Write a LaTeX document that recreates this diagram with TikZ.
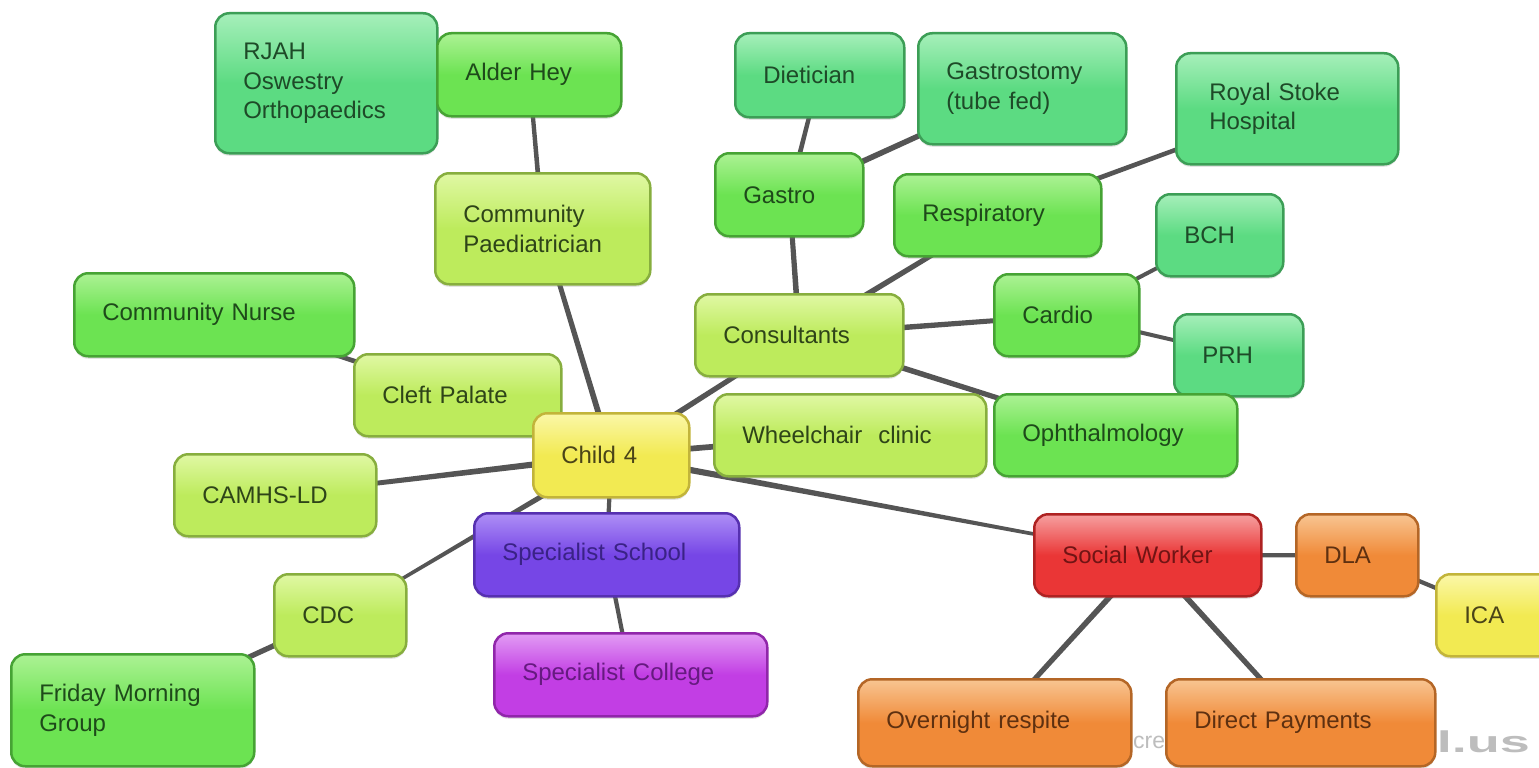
\documentclass[tikz,border=0pt]{standalone}
\usepackage{fontspec}
\setmainfont{Liberation Sans}
\usetikzlibrary{calc,shadows,backgrounds}
\definecolor{tealB}{HTML}{5CDB82}\definecolor{tealL}{HTML}{A6EFBA}\definecolor{tealD}{HTML}{3C9E56}\definecolor{tealT}{HTML}{1E4A28}
\definecolor{grnB}{HTML}{6CE352}\definecolor{grnL}{HTML}{ACF294}\definecolor{grnD}{HTML}{46A334}\definecolor{grnT}{HTML}{1E4A1A}
\definecolor{limeB}{HTML}{BDEB5C}\definecolor{limeL}{HTML}{E0F8A4}\definecolor{limeD}{HTML}{87AE3E}\definecolor{limeT}{HTML}{2E4418}
\definecolor{yelB}{HTML}{F2EA52}\definecolor{yelL}{HTML}{FBF7A8}\definecolor{yelD}{HTML}{C2B43A}\definecolor{yelT}{HTML}{4A4418}
\definecolor{purB}{HTML}{7646E6}\definecolor{purL}{HTML}{AE8FF6}\definecolor{purD}{HTML}{5630B0}\definecolor{purT}{HTML}{3A2286}
\definecolor{magB}{HTML}{C23EE4}\definecolor{magL}{HTML}{E29CF4}\definecolor{magD}{HTML}{9026AA}\definecolor{magT}{HTML}{661A80}
\definecolor{redB}{HTML}{EA3636}\definecolor{redL}{HTML}{F6A0A0}\definecolor{redD}{HTML}{AE2222}\definecolor{redT}{HTML}{701414}
\definecolor{orB}{HTML}{F08A38}\definecolor{orL}{HTML}{F8C592}\definecolor{orD}{HTML}{B46626}\definecolor{orT}{HTML}{5E3010}
\definecolor{linec}{HTML}{555555}
\definecolor{wmc}{HTML}{BDBDBD}
\tikzset{
  bub/.style={rounded corners=14pt, line width=2.5pt, inner xsep=28pt, inner ysep=3pt,
    align=left, font=\fontsize{24}{29.5}\selectfont,
    drop shadow={shadow xshift=0pt, shadow yshift=-2.5pt, opacity=0.22}},
  teal/.style={bub, draw=tealD, top color=tealL, bottom color=tealB, middle color=tealB, text=tealT},
  grn/.style={bub, draw=grnD, top color=grnL, bottom color=grnB, middle color=grnB, text=grnT},
  lime/.style={bub, draw=limeD, top color=limeL, bottom color=limeB, middle color=limeB, text=limeT},
  yel/.style={bub, draw=yelD, top color=yelL, bottom color=yelB, middle color=yelB, text=yelT},
  purp/.style={bub, draw=purD, top color=purL, bottom color=purB, middle color=purB, text=purT},
  mag/.style={bub, draw=magD, top color=magL, bottom color=magB, middle color=magB, text=magT},
  redbox/.style={bub, draw=redD, top color=redL, bottom color=redB, middle color=redB, text=redT},
  orng/.style={bub, draw=orD, top color=orL, bottom color=orB, middle color=orB, text=orT},
  wmark/.style={text=wmc, inner sep=0pt}
}
\newcommand\bubnode[7]{%
  \pgfmathsetmacro\bw{#5-#3}\pgfmathsetmacro\bh{#6-#4}\pgfmathsetmacro\tw{#5-#3-56}%
  \node[#2, anchor=north west, minimum width=\bw pt, minimum height=\bh pt, text width=\tw pt] (#1) at (#3,#4) {#7};}
\newcommand\conn[4]{%
  \fill[linec] let \p1=(#1.center), \p2=(#2.center), \n1={atan2(\y2-\y1,\x2-\x1)} in
    ($(\p1)+(\n1+90:#3)$) -- ($(\p2)+(\n1+90:#4)$) -- ($(\p2)+(\n1-90:#4)$) -- ($(\p1)+(\n1-90:#3)$) -- cycle;}
\begin{document}
\begin{tikzpicture}[x=1pt, y=-1pt]
\useasboundingbox (0,0) rectangle (1539,768);

\bubnode{rjah}{teal}{214}{12}{436}{152}{RJAH\\Oswestry\\Orthopaedics}
\bubnode{alder}{grn}{436}{32}{620}{115}{Alder Hey}
\bubnode{commp}{lime}{434}{172}{649}{283}{Community\\Paediatrician}
\bubnode{diet}{teal}{734}{32}{903}{116}{Dietician}
\bubnode{gtomy}{teal}{917}{32}{1125}{143}{Gastrostomy\\(tube fed)}
\bubnode{stoke}{teal}{1175}{52}{1397}{163}{\hspace*{5pt}Royal Stoke\\\hspace*{5pt}Hospital}
\bubnode{gastro}{grn}{714}{152}{862}{235}{Gastro}
\bubnode{resp}{grn}{893}{173}{1100}{255}{Respiratory}
\bubnode{bch}{teal}{1155}{193}{1282}{275}{BCH}
\bubnode{nurse}{grn}{73}{272}{353}{355}{Community Nurse}
\bubnode{cons}{lime}{694}{293}{902}{375}{Consultants}
\bubnode{cardio}{grn}{993}{273}{1138}{355}{Cardio}
\bubnode{prh}{teal}{1173}{313}{1302}{395}{PRH}
\bubnode{cleft}{lime}{353}{353}{560}{435}{Cleft Palate}
\bubnode{child}{yel}{532}{412}{688}{496}{Child 4}
\bubnode{wheel}{lime}{713}{393}{985}{475}{Wheelchair~ clinic}
\bubnode{oph}{grn}{993}{393}{1236}{475}{Ophthalmology}
\bubnode{camhs}{lime}{173}{453}{375}{535}{CAMHS-LD}
\bubnode{school}{purp}{473}{512}{738}{595}{Specialist School}
\bubnode{social}{redbox}{1033}{513}{1260}{595}{Social Worker}
\bubnode{dla}{orng}{1295}{513}{1417}{595}{DLA}
\bubnode{ica}{yel}{1435}{573}{1565}{655}{ICA}
\bubnode{cdc}{lime}{273}{573}{405}{655}{CDC}
\bubnode{college}{mag}{493}{632}{766}{715}{Specialist College}
\bubnode{friday}{grn}{10}{653}{253}{765}{Friday Morning\\Group}
\bubnode{night}{orng}{857}{678}{1130}{765}{Overnight respite}
\bubnode{direct}{orng}{1165}{678}{1434}{765}{Direct Payments}

\begin{pgfonlayer}{background}
\fill[white] (0,0) rectangle (1539,768);
\node[wmark, anchor=base west, font=\fontsize{23}{26}\selectfont] (wm1) at (1133,748) {created with};
\node[wmark, anchor=base east, font=\bfseries\fontsize{30}{32}\selectfont] (wm2) at (1530,752) {\scalebox{1.8}[1]{bubbl.us}};
\conn{commp}{alder}{2.5pt}{2pt}
\conn{child}{commp}{3pt}{2.3pt}
\conn{gastro}{diet}{2.5pt}{2pt}
\conn{gastro}{gtomy}{3pt}{2.5pt}
\conn{cons}{gastro}{3pt}{2.3pt}
\conn{resp}{stoke}{2.6pt}{2pt}
\conn{cons}{resp}{3pt}{2.3pt}
\conn{cardio}{bch}{2.2pt}{1.8pt}
\conn{cons}{cardio}{3pt}{2.3pt}
\conn{cardio}{prh}{2.2pt}{1.8pt}
\conn{cons}{oph}{3pt}{2.3pt}
\conn{child}{cons}{3pt}{2.3pt}
\conn{cleft}{nurse}{2.6pt}{2pt}
\conn{child}{wheel}{3pt}{2.6pt}
\conn{child}{social}{3.4pt}{1.4pt}
\conn{child}{camhs}{3.4pt}{2pt}
\conn{child}{school}{2.2pt}{2pt}
\conn{child}{cdc}{3pt}{1.4pt}
\conn{cdc}{friday}{2.8pt}{2.4pt}
\conn{school}{college}{2.2pt}{2pt}
\conn{social}{dla}{2.2pt}{2pt}
\conn{dla}{ica}{2.2pt}{2pt}
\conn{social}{night}{3pt}{2.4pt}
\conn{social}{direct}{3pt}{2.4pt}
\end{pgfonlayer}
\end{tikzpicture}
\end{document}
